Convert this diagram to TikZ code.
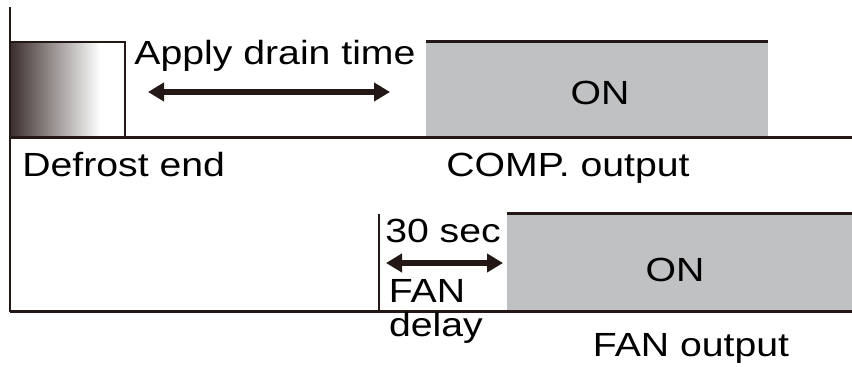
\documentclass[tikz,border=0pt]{standalone}
\usepackage{fontspec}
\setmainfont{Liberation Sans}[FakeStretch=1.17]
\usetikzlibrary{arrows.meta}

\begin{document}
\begin{tikzpicture}[x=0.5pt, y=-0.5pt,
        txt/.style={font=\fontsize{16.75}{20}\selectfont, inner sep=0pt, anchor=base},
        eixo/.style={line width=1.5pt, draw=linha},
        seta/.style={line width=2.6pt, draw=linha, {Triangle[length=8pt,width=9pt]}-{Triangle[length=8pt,width=9pt]}}]
        % Cores
        \definecolor{linha}{HTML}{231815}
        \definecolor{cinza}{HTML}{C0C1C3}
        \definecolor{escuro}{HTML}{3A2E2C}

        \useasboundingbox (0,0) rectangle (852,367);

        % Fim do degelo (gradiente)
        \shade[left color=escuro, right color=white] (10,42) rectangle (100,138);
        \draw[line width=1pt, linha] (10,42) -| (125,138);

        % Blocos ON (COMP e FAN)
        \fill[cinza] (426,42) rectangle (768,138);
        \draw[eixo] (426,42) -- (768,42);
        \fill[cinza] (507,214) rectangle (852,312);
        \draw[eixo] (507,214) -- (852,214);

        % Eixos e linhas de base
        \draw[line width=1.25pt, linha] (10,7) -- (10,312);
        \draw[eixo] (10,138) -- (852,138);
        \draw[eixo] (10,312) -- (852,312);
        \draw[line width=1pt, linha] (379,214) -- (379,312);

        % Textos
        \node[txt] (drain) at (275,65) {Apply drain time};
        \node[txt] (on1) at (600,105) {ON};
        \node[txt, anchor=base west] (defrost) at (22,177) {Defrost end};
        \node[txt] (comp) at (568,177) {COMP. output};
        \node[txt] (sec) at (443,243) {30 sec};
        \node[txt] (fan) at (427,303) {FAN};
        \node[txt] (delay) at (436,337) {delay};
        \node[txt] (on2) at (675,282) {ON};
        \node[txt] (fanout) at (691,357) {FAN output};

        % Setas de tempo
        \coordinate (d1) at (148,92);
        \coordinate (d2) at (390,92);
        \draw[seta] (d1) -- (d2);
        \coordinate (s1) at (386,263);
        \coordinate (s2) at (503,263);
        \draw[seta] (s1) -- (s2);
    \end{tikzpicture}
\end{document}
